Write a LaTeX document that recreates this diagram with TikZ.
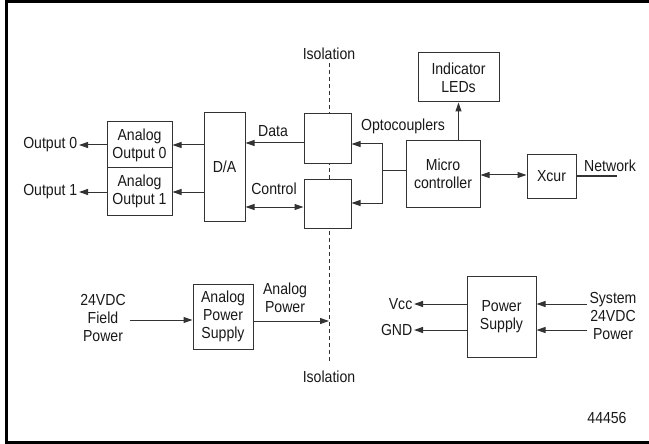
\documentclass[tikz,border=0pt]{standalone}
\usepackage{fontspec}
\setmainfont{Liberation Sans}[FakeStretch=0.88]
\usetikzlibrary{arrows.meta}
\begin{document}
\begin{tikzpicture}[x=1pt,y=-1pt,
  every node/.style={font=\fontsize{16}{18}\selectfont, text=black!90, inner sep=1.5pt, align=center},
  box/.style={draw=black!80, line width=1pt, fill=white, inner sep=0pt},
  conn/.style={draw=black!80, line width=1pt},
  arr/.style={conn, -{Triangle[length=9pt,width=6pt]}},
  darr/.style={conn, {Triangle[length=9pt,width=6pt]}-{Triangle[length=9pt,width=6pt]}},
  iso/.style={draw=black!80, line width=0.8pt, dash pattern=on 4pt off 3pt}]
\useasboundingbox (0,0) rectangle (649,444);
% frame
\draw[line width=3pt] (649,2) -- (6,2) -- (6,442) -- (649,442);
% isolation line
\coordinate (isotop) at (329,63);
\coordinate (isobot) at (329,362);
\draw[iso] (isotop) -- (isobot);
\node (isot) at (329,54) {Isolation};
\node (isob) at (329,377) {Isolation};
% boxes
\node[box, minimum width=65pt, minimum height=46pt] (ao0) at (139.5,145) {Analog\\Output 0};
\node[box, minimum width=65pt, minimum height=47pt] (ao1) at (139.5,191.5) {Analog\\Output 1};
\node[box, minimum width=41pt, minimum height=108pt] (da) at (224.5,167) {D/A};
\node[box, minimum width=47pt, minimum height=50pt] (opto1) at (327.5,139) {};
\node[box, minimum width=47pt, minimum height=49pt] (opto2) at (327.5,203.5) {};
\node[box, minimum width=74pt, minimum height=66pt] (micro) at (443,174) {Micro\\controller};
\node[box, minimum width=81pt, minimum height=49pt] (leds) at (458.5,77.5) {Indicator\\LEDs};
\node[box, minimum width=49pt, minimum height=43pt] (xcur) at (551.5,176.5) {Xcur};
\node[box, minimum width=60pt, minimum height=65pt] (aps) at (223,316.5) {Analog\\Power\\Supply};
\node[box, minimum width=69pt, minimum height=81pt] (ps) at (501.5,316.5) {Power\\Supply};
% outputs
\node[anchor=east] (out0) at (79,145) {Output 0};
\node[anchor=east] (out1) at (79,192) {Output 1};
\draw[arr] (ao0.west |- out0) -- (out0.east);
\draw[arr] (ao1.west |- out1) -- (out1.east);
\draw[arr] (da.west |- out0) -- (ao0.east |- out0);
\draw[arr] (da.west |- out1) -- (ao1.east |- out1);
% data / control
\coordinate (datay) at (0,143);
\coordinate (ctly) at (0,207);
\draw[arr] (opto1.west |- datay) -- (da.east |- datay);
\draw[darr] (opto2.west |- ctly) -- (da.east |- ctly);
\node (data) at (273,131) {Data};
\node (control) at (274,189) {Control};
% optocoupler fan
\coordinate (jm) at (382,171);
\coordinate (jt) at (382,144);
\coordinate (jb) at (382,203);
\draw[conn] (micro.west |- jm) -- (jm);
\draw[arr] (jm) |- (opto1.east |- jt);
\draw[arr] (jm) |- (opto2.east |- jb);
\node (optolbl) at (403,126) {Optocouplers};
% LEDs
\draw[arr] (micro.north -| leds.south) -- (leds.south);
% xcur
\coordinate (xy) at (0,175);
\draw[darr] (micro.east |- xy) -- (xcur.west |- xy);
\coordinate (netend) at (617,176);
\draw[conn] (xcur.east |- netend) -- (netend);
\node (network) at (610,166) {Network};
% analog power
\node (field) at (103,318) {24VDC\\Field\\Power};
\coordinate (fy) at (130,320);
\draw[arr] (fy) -- (aps.west |- fy);
\coordinate (apy) at (329,321);
\draw[arr] (aps.east |- apy) -- (apy);
\node (aplbl) at (285,298) {Analog\\Power};
% system power
\node[anchor=east] (vcc) at (414,304) {Vcc};
\node[anchor=east] (gnd) at (414,330) {GND};
\draw[arr] (ps.west |- vcc) -- (vcc.east);
\draw[arr] (ps.west |- gnd) -- (gnd.east);
\node (sys) at (613,316) {System\\24VDC\\Power};
\coordinate (s1) at (587,304);
\coordinate (s2) at (587,330);
\draw[arr] (s1) -- (ps.east |- s1);
\draw[arr] (s2) -- (ps.east |- s2);
\node (fig) at (607,418) {44456};
\end{tikzpicture}
\end{document}
